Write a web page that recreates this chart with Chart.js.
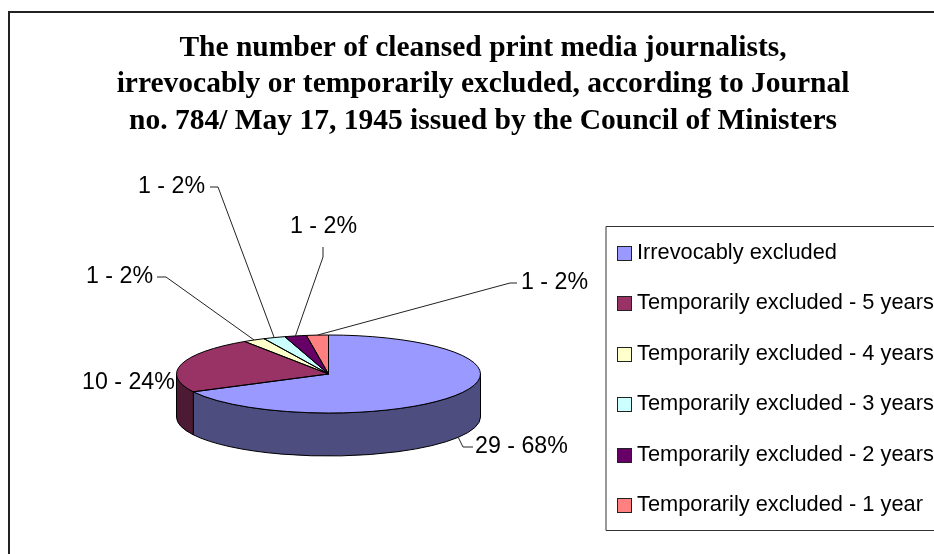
<!DOCTYPE html>
<html>
<head>
<meta charset="utf-8">
<style>
html,body{margin:0;padding:0;background:#fff;overflow:hidden;width:934px;height:554px}
canvas{display:block}
</style>
<script src="https://cdn.jsdelivr.net/npm/chart.js@4"></script>
</head>
<body>
<canvas id="c" width="940" height="554"></canvas>
<script>
const categories = ["Irrevocably excluded","Temporarily excluded - 5 years","Temporarily excluded - 4 years","Temporarily excluded - 3 years","Temporarily excluded - 2 years","Temporarily excluded - 1 year"];
const counts = [29,10,1,1,1,1];
const percents = [68,24,2,2,2,2];
const topColors = ["#9999FF","#993366","#FFFFCC","#CCFFFF","#660066","#FF8080"];
const sideColors = ["#4D4D80","#4D1A33","#808066","#668080","#330033","#804040"];
const titleLines = ["The number of cleansed print media journalists,","irrevocably or temporarily excluded, according to Journal","no. 784/ May 17, 1945 issued by the Council of Ministers"];

const SQUASH = 39/152, DEPTH = 43, FONT = '"Liberation Sans", Arial, sans-serif', LABEL_SIZE = 23.2, LEGEND_SIZE = 21.8;
const labelPos = [[475,447],[82,383],[86,277],[138,187],[290,227],[521,283]];
const leaderPts = [[[473,447],[463,447]],null,[[157,277],[166,277]],[[210,187],[218,187]],[[323,247],[323,257]],[[517,283],[510,283]]];

const pie3d = {
  id:'pie3d',
  beforeDraw(chart){
    const c = chart.ctx;
    c.save(); c.strokeStyle='#222'; c.lineWidth=2;
    c.beginPath(); c.moveTo(9,560); c.lineTo(9,12); c.lineTo(945,12); c.stroke();
    c.strokeStyle='#333'; c.lineWidth=1;
    c.beginPath(); c.moveTo(945,226.5); c.lineTo(606,226.5); c.lineTo(606,530.5); c.lineTo(945,530.5); c.stroke();
    c.restore();
  },
  beforeDatasetsDraw(chart){
    const c = chart.ctx, arcs = chart.getDatasetMeta(0).data;
    const {x:cx,y:cy,outerRadius:r} = arcs[0], ry = r*SQUASH;
    arcs.forEach((a,i)=>{
      const s = Math.max(a.startAngle,0), e = Math.min(a.endAngle,Math.PI);
      if(e<=s) return;
      c.beginPath();
      c.ellipse(cx,cy,r,ry,0,s,e);
      c.lineTo(cx+r*Math.cos(e),cy+ry*Math.sin(e)+DEPTH);
      c.ellipse(cx,cy+DEPTH,r,ry,0,e,s,true);
      c.closePath();
      c.fillStyle = sideColors[i]; c.fill();
      c.strokeStyle='#000'; c.lineWidth=1; c.stroke();
    });
    c.save();
    c.translate(cx,cy); c.scale(1,SQUASH); c.translate(-cx,-cy);
  },
  afterDatasetsDraw(chart){
    const c = chart.ctx, arcs = chart.getDatasetMeta(0).data;
    c.restore();
    const {x:cx,y:cy,outerRadius:r} = arcs[0], ry = r*SQUASH;
    arcs.forEach(a=>{
      c.beginPath(); c.moveTo(cx,cy);
      c.ellipse(cx,cy,r,ry,0,a.startAngle,a.endAngle);
      c.closePath();
      c.strokeStyle='#000'; c.lineWidth=1; c.stroke();
    });
    c.save();
    c.font = LABEL_SIZE+'px '+FONT; c.fillStyle='#000'; c.textBaseline='middle'; c.textAlign='left';
    arcs.forEach((a,i)=>{
      c.fillText(counts[i]+' - '+percents[i]+'%',labelPos[i][0],labelPos[i][1]);
      if(!leaderPts[i]) return;
      const m=(a.startAngle+a.endAngle)/2, sn=Math.sin(m);
      const ax=cx+r*Math.cos(m), ay=cy+ry*sn+(sn>0?DEPTH:0);
      c.beginPath(); c.moveTo(leaderPts[i][0][0],leaderPts[i][0][1]); c.lineTo(leaderPts[i][1][0],leaderPts[i][1][1]); c.lineTo(ax,ay);
      c.strokeStyle='#222'; c.lineWidth=1; c.stroke();
    });
    c.restore();
  },
  afterLayout(chart){
    const t = chart.titleBlock; t.left=0; t.right=966; t.width=966;
    const l = chart.legend; const h=l.bottom-l.top, w=l.right-l.left;
    const pad = l.options.labels.padding;
    l.left = 617.5-pad; l.right=l.left+w;
    l.top = 213.1; l.bottom=l.top+h;
    l.adjustHitBoxes();
  },
  afterDraw(chart){
    const c = chart.ctx, boxes = chart.legend.legendHitBoxes;
    c.save();
    boxes.forEach((b,i)=>{
      const y = Math.round(b.top+b.height/2-7)+0.5;
      c.fillStyle=topColors[i]; c.strokeStyle='#222'; c.lineWidth=1;
      c.fillRect(617.5,y,14,14); c.strokeRect(617.5,y,14,14);
    });
    c.restore();
  }
};

new Chart(document.getElementById('c'),{
  type:'pie',
  data:{labels:categories,datasets:[{data:counts,backgroundColor:topColors,borderWidth:0,radius:152}]},
  plugins:[pie3d],
  options:{
    responsive:false,animation:false,events:[],
    layout:{padding:{left:0,right:283,top:0,bottom:0}},
    plugins:{
      tooltip:{enabled:false},
      title:{display:true,text:titleLines,color:'#000',
        font:{family:'"Liberation Serif","Times New Roman",serif',weight:'bold',size:29.5,lineHeight:36.5/29.5},
        padding:{top:30,bottom:54.5}},
      legend:{display:true,position:'chartArea',align:'start',
        labels:{boxWidth:8.6,boxHeight:14,color:'#000',padding:28.7,font:{family:FONT,size:LEGEND_SIZE},
          generateLabels(chart){
            return categories.map((t,i)=>({text:t,fillStyle:'rgba(0,0,0,0)',strokeStyle:'rgba(0,0,0,0)',lineWidth:0,index:i,fontColor:'#000'}));
          }}}
    }
  }
});
</script>
</body>
</html>
